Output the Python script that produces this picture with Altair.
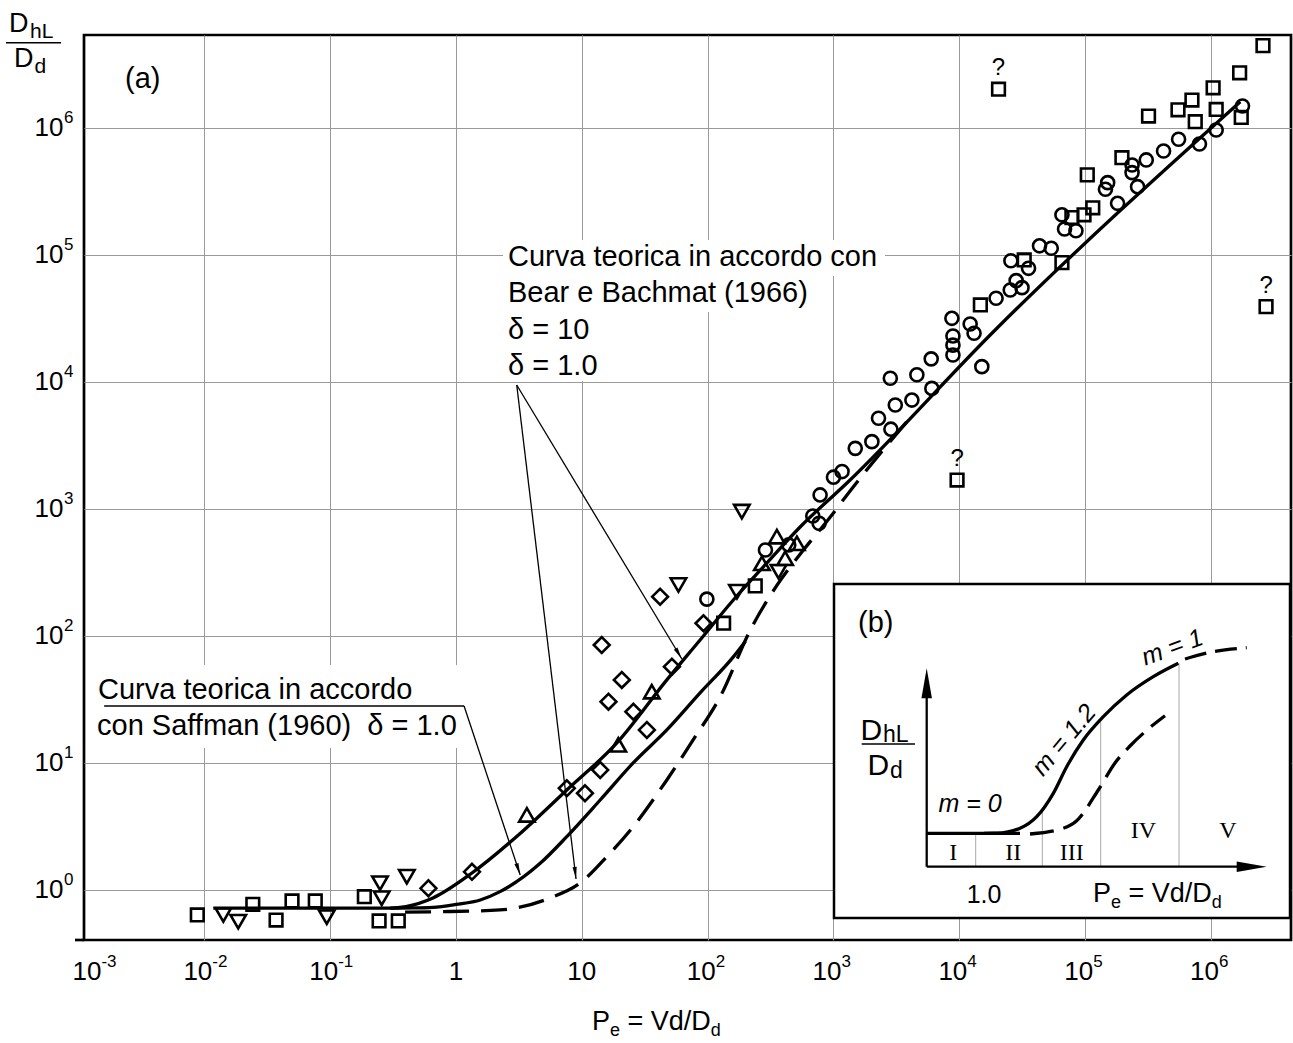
import math
import altair as alt
import pandas as pd

# ---------------- measured data: Pe = Vd/Dd , D_hL/Dd ----------------
square_pe = [0.0088, 0.0243, 0.0372, 0.0498, 0.0762, 0.187, 0.245, 0.348,
             134, 239, 1.47e4, 3.28e4, 6.54e4, 7.85e4, 9.8e4, 1.15e5, 1.04e5,
             1.96e5, 3.19e5, 5.47e5, 7.06e5, 7.5e5, 1.04e6, 1.10e6, 1.74e6,
             1.69e6, 2.59e6]
square_d = [0.636, 0.771, 0.58, 0.819, 0.819, 0.885, 0.57, 0.57,
            126, 248, 4.04e4, 9.14e4, 8.7e4, 1.97e5, 2.07e5, 2.35e5, 4.27e5,
            5.83e5, 1.24e6, 1.39e6, 1.66e6, 1.12e6, 2.07e6, 1.40e6, 1.21e6,
            2.72e6, 4.45e6]

doubt_pe = [2.05e4, 2.74e6, 9.6e3]
doubt_d = [2.02e6, 3.92e4, 1.69e3]

circle_pe = [98.6, 288, 441, 685, 769, 783, 1.0e3, 1.17e3, 1.49e3, 2.02e3,
             2.86e3, 2.28e3, 3.1e3, 4.2e3, 6.05e3, 2.83e3, 4.6e3, 5.98e3,
             1.51e4, 8.9e3, 8.9e3, 8.9e3, 1.31e4, 1.22e4, 8.73e3, 1.96e4,
             2.54e4, 3.15e4, 2.83e4, 3.55e4, 2.57e4, 4.34e4, 5.38e4, 6.54e4,
             6.86e4, 8.45e4, 1.81e5, 1.45e5, 1.51e5, 2.61e5, 2.36e5, 2.36e5,
             3.06e5, 4.2e5, 5.53e5, 8.1e5, 1.10e6, 1.78e6]
circle_d = [195, 475, 521, 881, 771, 1290, 1.78e3, 1.97e3, 3.0e3, 3.39e3,
            4.25e3, 5.18e3, 6.59e3, 7.2e3, 8.9e3, 1.07e4, 1.14e4, 1.52e4,
            1.32e4, 1.63e4, 1.95e4, 2.3e4, 2.42e4, 2.86e4, 3.17e4, 4.56e4,
            5.3e4, 5.53e4, 6.28e4, 7.85e4, 9.0e4, 1.18e5, 1.13e5, 2.07e5,
            1.6e5, 1.55e5, 2.55e5, 3.29e5, 3.71e5, 3.45e5, 4.45e5, 5.11e5,
            5.6e5, 6.59e5, 8.15e5, 7.48e5, 9.64e5, 1.49e6]

tri_up_pe = [3.66, 19.5, 36.0, 270, 355, 413, 512]
tri_up_d = [3.9, 13.9, 36.4, 373, 605, 409, 537]

tri_dn_pe = [0.01416, 0.0186, 0.094, 0.249, 0.257, 0.407, 58.6, 171, 187, 366]
tri_dn_d = [0.636, 0.563, 0.61, 1.13, 0.86, 1.27, 252, 223, 953, 321]

diam_pe = [0.604, 1.34, 7.6, 10.6, 14.0, 32.9, 25.7, 16.3, 20.8, 52.0, 14.4, 41.9, 92.7]
diam_d = [1.03, 1.39, 6.32, 5.77, 8.81, 18.2, 25.3, 30.4, 45.1, 57.3, 84.9, 204, 126]

# ---------------- theoretical curves ----------------
upper_pe = [0.0118, 0.30, 0.40, 0.656, 1.34, 3.27, 7.6, 19.0, 47.4, 87.1, 160, 296, 543, 1280, 19900, 1.71e6]
upper_d = [0.72, 0.72, 0.74, 0.865, 1.36, 2.81, 6.13, 14.4, 45.1, 93, 192, 376, 721, 1600, 26500, 1.61e6]

middle_pe = [0.30, 0.46, 0.656, 1.0, 1.56, 2.24, 4.67, 7.6, 14.0, 25.6, 47.4, 87.1, 160, 200]
middle_d = [0.72, 0.722, 0.73, 0.77, 0.834, 0.97, 1.62, 2.63, 5.11, 10.0, 18.2, 35.6, 68.4, 91]

dashed_pe = [0.394, 0.79, 2.24, 5.6, 9.7, 15.8, 25.6, 47.4, 76.7, 126, 218, 355, 543, 940, 1250, 3830]
dashed_d = [0.67, 0.675, 0.696, 0.865, 1.135, 1.83, 3.15, 7.35, 15.2, 33.3, 111, 250, 440, 860, 1250, 4870]

# leader lines (data coordinates): start -> arrow tip
bear_from = (3.04, 9460)
bear_tips = [(9.0, 1.22), (62.4, 65.9)]
saff_from = (1.16, 28.1)
saff_tip = (3.24, 1.31)
saff_underline_start = 0.0016

# tick labels
x_exp_pos = [10 ** -2.881, 1e-2, 1e-1, 1e2, 1e3, 1e4, 1e5, 1e6]
x_exp_txt = ["-3", "-2", "-1", "2", "3", "4", "5", "6"]
x_plain_pos = [1, 10]
x_plain_txt = ["1", "10"]
y_pos = [1, 10, 1e2, 1e3, 1e4, 1e5, 1e6]
y_exp_txt = ["0", "1", "2", "3", "4", "5", "6"]

# ---------------- inset (b) schematic, arbitrary units ----------------
in_flat_u = [92, 186]
in_flat_v = [84.7, 84.7]
in_solid_u = [150, 162.7, 186, 202.7, 219.3, 232.7, 249.3, 269.3, 292.7, 319.3, 344.3]
in_solid_v = [84.7, 84.8, 89.7, 101.3, 124.7, 151.3, 178, 201.3, 223, 241.3, 254.7]
in_tail_u = [351, 379.3, 412.7]
in_tail_v = [259, 266.3, 270.3]
in_dash_u = [196, 226, 242.7, 264.3, 281, 296, 313, 331]
in_dash_v = [84, 88.7, 97.3, 128, 155, 172, 188, 202.3]
in_div_u = [141.7, 208.3, 266.7, 345]
in_div_top = [84.7, 108, 196, 255]
in_roman = ["I", "II", "III", "IV", "V"]
in_roman_u = [119.3, 179.3, 237.7, 309.3, 394]
in_roman_v = [58, 58, 58, 80, 80]

# ---------------- scales / helpers ----------------
W, H = 1207, 905
XLOG = (-2.956, 6.636)
YLOG = (-0.394, 6.732)
XS = alt.Scale(type="log", domain=[10 ** XLOG[0], 10 ** XLOG[1]], nice=False)
YS = alt.Scale(type="log", domain=[10 ** YLOG[0], 10 ** YLOG[1]], nice=False)
XAX = alt.Axis(values=[1e-2, 1e-1, 1, 10, 1e2, 1e3, 1e4, 1e5, 1e6], grid=True,
               labels=False, ticks=False, domain=False, title=None)
YAX = alt.Axis(values=[1, 10, 1e2, 1e3, 1e4, 1e5, 1e6], grid=True,
               labels=False, ticks=False, domain=False, title=None)


def X(f="pe"):
    return alt.X(f"{f}:Q", scale=XS, axis=XAX)


def Y(f="d"):
    return alt.Y(f"{f}:Q", scale=YS, axis=YAX)


PXX = W / (XLOG[1] - XLOG[0])
PXY = H / (YLOG[1] - YLOG[0])


def arrow_angle(x0, y0, x1, y1):
    dx = (math.log10(x1) - math.log10(x0)) * PXX
    dy = -(math.log10(y1) - math.log10(y0)) * PXY
    return math.degrees(math.atan2(-dx, dy)) % 360


ARROW = "M0,0L-0.35,-2L0.35,-2Z"
FONT = "Liberation Sans"
NB = "\u00a0"
one = pd.DataFrame({"t": [""]})


def label(text, x, y, size=29, **kw):
    props = dict(font=FONT, fontSize=size, align="left", baseline="alphabetic", color="black")
    props.update(kw)
    return alt.Chart(pd.DataFrame({"t": [text]})).mark_text(**props).encode(
        x=alt.value(x), y=alt.value(y), text="t:N")


def white_box(x0, x1, y0, y1):
    return alt.Chart(one).mark_rect(color="white").encode(
        x=alt.value(x0), x2=alt.value(x1), y=alt.value(y0), y2=alt.value(y1))


def points(pe, d, shape, size):
    df = pd.DataFrame({"pe": pe, "d": d})
    return alt.Chart(df).mark_point(shape=shape, filled=False, color="black",
                                    strokeWidth=2.6, size=size, opacity=1).encode(x=X(), y=Y())


def curve(pe, d, dash=None):
    df = pd.DataFrame({"pe": pe, "d": d, "i": range(len(pe))})
    kw = dict(color="black", strokeWidth=3.3, interpolate="monotone")
    if dash:
        kw["strokeDash"] = dash
    return alt.Chart(df).mark_line(**kw).encode(x=X(), y=Y(), order="i:Q")


layers = []
# white boxes behind annotation texts (gridlines interrupted)
layers += [
    white_box(419, 801, 205, 241),
    white_box(419, 731, 241, 277),
    white_box(419, 516, 277, 314),
    white_box(419, 521, 314, 346),
    white_box(11, 384, 630, 713),
]

# small extension of the bottom axis line to the left
layers.append(alt.Chart(one).mark_rule(color="black", strokeWidth=2.7).encode(
    x=alt.value(-9), x2=alt.value(0), y=alt.value(905), y2=alt.value(905)))

# curves
layers += [curve(upper_pe, upper_d), curve(middle_pe, middle_d),
           curve(dashed_pe, dashed_d, [26, 12])]

# leader lines
leader_rows = [dict(x0=bear_from[0], y0=bear_from[1], x1=t[0], y1=t[1]) for t in bear_tips]
leader_rows.append(dict(x0=saff_from[0], y0=saff_from[1], x1=saff_tip[0], y1=saff_tip[1]))
leader_rows.append(dict(x0=saff_underline_start, y0=saff_from[1], x1=saff_from[0], y1=saff_from[1]))
leaders = pd.DataFrame(leader_rows)
layers.append(alt.Chart(leaders).mark_rule(color="black", strokeWidth=1.3).encode(
    x=X("x0"), y=Y("y0"), x2="x1:Q", y2="y1:Q"))

heads = pd.DataFrame([
    dict(pe=t[0], d=t[1], ang=arrow_angle(bear_from[0], bear_from[1], t[0], t[1])) for t in bear_tips
] + [dict(pe=saff_tip[0], d=saff_tip[1],
          ang=arrow_angle(saff_from[0], saff_from[1], saff_tip[0], saff_tip[1]))])
layers.append(alt.Chart(heads).mark_point(shape=ARROW, filled=True, color="black",
                                          size=144, opacity=1, strokeWidth=0).encode(
    x=X(), y=Y(), angle=alt.Angle("ang:Q", scale=None)))

# scatter points
layers += [
    points(square_pe, square_d, "square", 160),
    points(doubt_pe, doubt_d, "square", 160),
    points(circle_pe, circle_d, "circle", 170),
    points(tri_up_pe, tri_up_d, "triangle-up", 240),
    points(tri_dn_pe, tri_dn_d, "triangle-down", 240),
    points(diam_pe, diam_d, "diamond", 250),
]
layers.append(alt.Chart(pd.DataFrame({"pe": doubt_pe, "d": doubt_d})).mark_text(
    text="?", font=FONT, fontSize=24, dy=-14, baseline="alphabetic", align="center",
    color="black").encode(x=X(), y=Y()))

# annotation texts
layers += [
    label("(a)", 41, 53),
    label("Curva teorica in accordo con", 424, 230.5),
    label("Bear e Bachmat (1966)", 424, 267),
    label("δ = 10", 424, 303.5),
    label("δ = 1.0", 424, 340),
    label("Curva teorica in accordo", 14, 664),
    label("con Saffman (1960)" + NB + NB + "δ = 1.0", 13, 700),
]

# tick labels
xe = pd.DataFrame({"pe": x_exp_pos, "e": x_exp_txt})
layers.append(alt.Chart(xe).mark_text(text="10", font=FONT, fontSize=26, align="right",
                                      baseline="alphabetic", dx=8, color="black").encode(
    x=X(), y=alt.value(945)))
layers.append(alt.Chart(xe).mark_text(font=FONT, fontSize=17, align="left",
                                      baseline="alphabetic", dx=8, color="black").encode(
    x=X(), y=alt.value(932), text="e:N"))
xp = pd.DataFrame({"pe": x_plain_pos, "t": x_plain_txt})
layers.append(alt.Chart(xp).mark_text(font=FONT, fontSize=26, align="center",
                                      baseline="alphabetic", color="black").encode(
    x=X(), y=alt.value(945), text="t:N"))
ye = pd.DataFrame({"d": y_pos, "e": y_exp_txt})
layers.append(alt.Chart(ye).mark_text(text="10", font=FONT, fontSize=26, align="right",
                                      baseline="alphabetic", dy=8, color="black").encode(
    x=alt.value(-20.5), y=Y()))
layers.append(alt.Chart(ye).mark_text(font=FONT, fontSize=17, align="left",
                                      baseline="alphabetic", dy=-5, color="black").encode(
    x=alt.value(-20), y=Y(), text="e:N"))

# axis titles
layers += [
    label("P", 508, 995, 27),
    label("e", 526, 1001, 18),
    label("= Vd/D", 543.5, 995, 27),
    label("d", 626.8, 1001, 18),
    label("D", -75, -3, 27),
    label("hL", -54, 3, 21),
    label("D", -70, 32, 27),
    label("d", -49.5, 38, 21),
]
layers.append(alt.Chart(one).mark_rule(color="black", strokeWidth=1.5).encode(
    x=alt.value(-78), x2=alt.value(-23), y=alt.value(7.7), y2=alt.value(7.7)))

main = alt.layer(*layers)

# ---------------- inset (b) ----------------
XI = alt.Scale(domain=[0, 456], range=[750, 1206], nice=False, zero=False)
YI = alt.Scale(domain=[0, 334], range=[883, 549], nice=False, zero=False)


def U(f="u"):
    return alt.X(f"{f}:Q", scale=XI, axis=None)


def V(f="v"):
    return alt.Y(f"{f}:Q", scale=YI, axis=None)


def in_text(text, u, v, size=25, **kw):
    props = dict(font=FONT, fontSize=size, align="left", baseline="alphabetic", color="black")
    props.update(kw)
    return alt.Chart(pd.DataFrame({"u": [u], "v": [v], "t": [text]})).mark_text(**props).encode(
        x=U(), y=V(), text="t:N")


def in_line(u, v, dash=None):
    df = pd.DataFrame({"u": u, "v": v, "i": range(len(u))})
    kw = dict(color="black", strokeWidth=3.3, interpolate="monotone")
    if dash:
        kw["strokeDash"] = dash
    return alt.Chart(df).mark_line(**kw).encode(x=U(), y=V(), order="i:Q")


ins = []
ins.append(alt.Chart(pd.DataFrame({"u": [0], "u2": [456], "v": [0], "v2": [334]})).mark_rect(
    fill="white", stroke="black", strokeWidth=2.5).encode(x=U(), x2="u2:Q", y=V(), y2="v2:Q"))
ins.append(alt.Chart(pd.DataFrame({"u": in_div_u, "v": [51.3] * 4, "v2": in_div_top})).mark_rule(
    color="#a8a8a8", strokeWidth=1).encode(x=U(), y=V(), y2="v2:Q"))
ins.append(alt.Chart(pd.DataFrame({"u": [92.7, 92.7], "v": [51.3, 51.3],
                                   "u2": [92.7, 410], "v2": [225, 51.3]})).mark_rule(
    color="black", strokeWidth=2.3).encode(x=U(), y=V(), x2="u2:Q", y2="v2:Q"))
ins.append(alt.Chart(pd.DataFrame({"u": [92.7, 432.7], "v": [249.7, 51.3], "ang": [180, 270]})).mark_point(
    shape=ARROW, filled=True, color="black", size=900, opacity=1, strokeWidth=0).encode(
    x=U(), y=V(), angle=alt.Angle("ang:Q", scale=None)))
ins += [
    in_line(in_flat_u, in_flat_v),
    in_line(in_solid_u, in_solid_v),
    in_line(in_tail_u, in_tail_v, [22, 9]),
    in_line(in_dash_u, in_dash_v, [24, 10]),
]
ins.append(alt.Chart(pd.DataFrame({"u": in_roman_u, "v": in_roman_v, "t": in_roman})).mark_text(
    font="Liberation Serif", fontSize=24, align="center", baseline="alphabetic", color="black").encode(
    x=U(), y=V(), text="t:N"))
ins += [
    in_text("(b)", 24, 286, 29),
    in_text("m = 0", 136, 106, 25, align="center", fontStyle="italic"),
    in_text("m = 1.2", 230, 178, 25, align="center", baseline="middle", fontStyle="italic", angle=310),
    in_text("m = 1", 338.3, 270.7, 25, align="center", baseline="middle", fontStyle="italic", angle=340),
    in_text("1.0", 150, 15, 25, align="center"),
    in_text("P", 259, 16.3, 27),
    in_text("e", 277, 10, 18),
    in_text("= Vd/D", 294.5, 16.3, 27),
    in_text("d", 377.8, 10, 18),
    in_text("D", 26.5, 178, 30),
    in_text("hL", 49, 176, 23),
    in_text("D", 33.5, 143, 30),
    in_text("d", 55.9, 140, 23),
]
ins.append(alt.Chart(pd.DataFrame({"u": [27.7], "u2": [81], "v": [174]})).mark_rule(
    color="black", strokeWidth=1.5).encode(x=U(), x2="u2:Q", y=V()))

inset = alt.layer(*ins)

chart = alt.layer(main, inset).resolve_scale(x="independent", y="independent").properties(
    width=W, height=H,
    padding={"left": 84, "top": 35, "right": 2, "bottom": 103},
    autosize=alt.AutoSizeParams(type="none"),
    background="white",
).configure_view(stroke="black", strokeWidth=2.7).configure_axis(
    gridColor="#9a9a9a", gridWidth=1, gridOpacity=1)

chart.save("out.html", embed_options={"renderer": "svg", "actions": False})
